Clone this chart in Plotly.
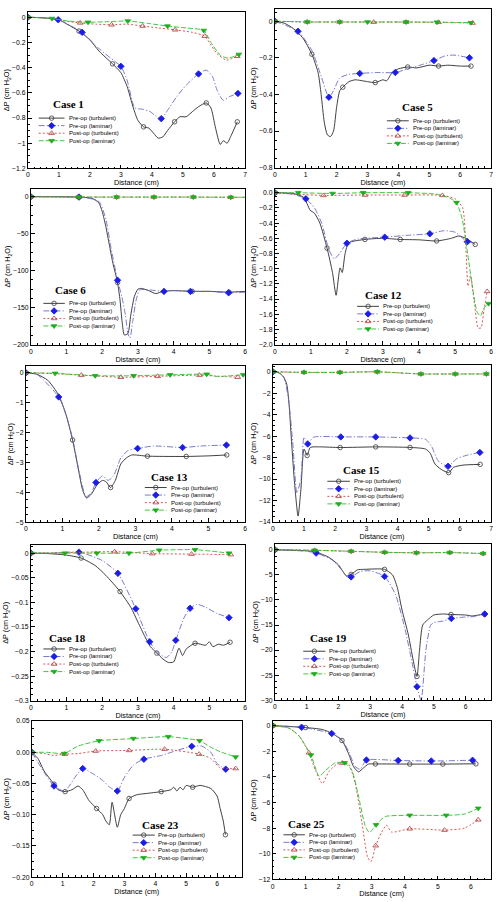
import plotly.graph_objects as go

W, H = 503, 902

SERIES_NAMES = ["Pre-op (turbulent)", "Pre-op (laminar)", "Post-op (turbulent)", "Post-op (laminar)"]
X_TITLE = "Distance (cm)"
Y_TITLE = "\u0394P (cm H<sub>2</sub>O)"

# ---- data: (distance, dP, marker-flag) ----
C1_PT = [(0,0,1),(0.5,-0.005,0),(1.0,-0.02,0),(1.3,-0.06,0),(1.65,-0.11,1),(2.0,-0.18,0),(2.3,-0.27,0),(2.73,-0.37,1),(3.0,-0.44,0),(3.2,-0.55,0),(3.4,-0.72,0),(3.55,-0.82,0),(3.73,-0.87,1),(3.9,-0.88,0),(4.05,-0.92,0),(4.2,-0.96,0),(4.35,-0.95,0),(4.5,-0.9,0),(4.73,-0.83,1),(4.9,-0.79,0),(5.1,-0.79,0),(5.3,-0.75,0),(5.5,-0.71,0),(5.75,-0.68,1),(5.9,-0.72,0),(6.05,-0.88,0),(6.2,-1.01,0),(6.3,-0.98,0),(6.42,-1.0,0),(6.55,-0.94,0),(6.75,-0.83,1)]
C1_PL = [(0,0,1),(0.5,-0.005,0),(0.98,-0.02,1),(1.4,-0.07,0),(1.75,-0.12,1),(2.3,-0.25,0),(2.8,-0.35,0),(3.0,-0.39,1),(3.2,-0.5,0),(3.45,-0.72,0),(3.7,-0.73,0),(3.95,-0.75,0),(4.1,-0.78,0),(4.3,-0.805,1),(4.5,-0.74,0),(4.8,-0.63,0),(5.1,-0.54,0),(5.5,-0.45,1),(5.75,-0.42,0),(5.95,-0.47,0),(6.1,-0.58,0),(6.3,-0.66,0),(6.5,-0.63,0),(6.77,-0.605,1)]
C1_QT = [(0,0,1),(0.8,-0.01,0),(1.2,-0.03,0),(1.69,-0.045,1),(2.2,-0.055,0),(2.7,-0.06,1),(3.2,-0.055,0),(3.7,-0.07,1),(4.2,-0.085,0),(4.75,-0.1,1),(5.3,-0.12,0),(5.7,-0.15,1),(5.9,-0.22,0),(6.1,-0.29,0),(6.4,-0.34,0),(6.75,-0.31,1)]
C1_QL = [(0,0,1),(0.78,-0.01,1),(1.3,-0.03,0),(1.94,-0.04,1),(2.6,-0.035,0),(3.22,-0.03,1),(3.9,-0.05,0),(4.5,-0.07,1),(5.1,-0.085,0),(5.67,-0.105,1),(5.9,-0.2,0),(6.2,-0.3,0),(6.45,-0.325,0),(6.8,-0.295,1)]

C5_PT = [(0,0,1),(0.3,-0.01,0),(0.6,-0.04,0),(0.9,-0.09,0),(1.2,-0.18,1),(1.4,-0.28,0),(1.5,-0.4,0),(1.6,-0.55,0),(1.7,-0.62,0),(1.8,-0.63,0),(1.9,-0.6,0),(2.0,-0.47,0),(2.1,-0.38,0),(2.2,-0.36,1),(2.4,-0.33,0),(2.6,-0.32,0),(3.0,-0.33,0),(3.25,-0.335,1),(3.5,-0.32,0),(3.62,-0.325,0),(3.8,-0.28,0),(4.0,-0.26,0),(4.3,-0.25,1),(4.6,-0.255,0),(5.0,-0.24,0),(5.3,-0.245,1),(5.6,-0.24,0),(6.0,-0.245,0),(6.35,-0.245,1)]
C5_PL = [(0,0,1),(0.75,-0.055,1),(1.2,-0.16,0),(1.5,-0.3,0),(1.75,-0.415,1),(1.9,-0.38,0),(2.1,-0.31,0),(2.4,-0.29,0),(2.75,-0.285,1),(3.3,-0.28,0),(3.9,-0.28,1),(4.3,-0.26,0),(4.8,-0.235,0),(5.15,-0.215,1),(5.5,-0.19,0),(5.8,-0.185,0),(6.3,-0.2,1)]
C5_QT = [(0,0,1),(1.05,-0.004,1),(2.1,-0.004,1),(3.2,-0.005,1),(4.25,-0.005,1),(5.3,-0.006,1),(6.4,-0.01,1)]
C5_QL = [(0,0,1),(1.05,-0.004,1),(2.1,-0.004,1),(3.0,-0.004,1),(4.25,-0.004,1),(5.25,-0.005,1),(6.35,-0.008,1)]

C6_PT = [(0,0,1),(1.35,-0.5,1),(1.7,-2,0),(1.9,-8,0),(2.0,-20,0),(2.1,-40,0),(2.2,-65,0),(2.3,-90,0),(2.43,-116,1),(2.5,-140,0),(2.56,-170,0),(2.62,-187,0),(2.72,-185,0),(2.8,-160,0),(2.9,-135,0),(3.0,-125,0),(3.1,-124,0),(3.3,-127,0),(3.5,-131,0),(3.7,-128,0),(4.0,-127,0),(4.52,-128,1),(5.0,-128,0),(5.55,-129,1),(6.0,-128,0)]
C6_PL = [(0,0,1),(1.35,-0.5,1),(1.9,-6,0),(2.1,-30,0),(2.25,-70,0),(2.43,-113,1),(2.55,-135,0),(2.65,-160,0),(2.72,-185,0),(2.78,-191,0),(2.85,-170,0),(2.95,-140,0),(3.05,-126,0),(3.3,-126,0),(3.73,-128,1),(4.0,-127,0),(4.47,-128,1),(5.0,-128,0),(5.54,-130,1),(6.0,-129,0)]
C6_QT = [(0,0,1),(1.35,-0.5,1),(2.4,-0.5,1),(3.45,-0.5,1),(4.55,-0.5,1),(5.6,-0.8,1),(6.0,-0.8,0)]
C6_QL = [(0,0,1),(1.35,-0.5,1),(2.4,-0.5,1),(3.45,-0.5,1),(4.55,-0.5,1),(5.6,-0.8,1),(6.0,-0.8,0)]

C12_PT = [(0,0,1),(0.5,-0.01,0),(0.8,-0.06,0),(0.98,-0.23,0),(1.1,-0.27,0),(1.25,-0.4,0),(1.45,-0.73,1),(1.6,-1.05,0),(1.7,-1.35,0),(1.81,-0.99,0),(1.87,-1.05,0),(1.95,-0.8,0),(2.05,-0.66,0),(2.5,-0.615,1),(3.0,-0.6,0),(3.48,-0.615,1),(4.0,-0.62,0),(4.49,-0.635,1),(4.9,-0.6,0),(5.1,-0.57,0),(5.3,-0.6,0),(5.56,-0.68,1)]
C12_PL = [(0,0,1),(0.5,-0.02,0),(0.86,-0.08,1),(1.1,-0.2,0),(1.3,-0.4,0),(1.5,-0.75,0),(1.65,-0.87,0),(1.8,-0.8,0),(2.0,-0.665,1),(2.3,-0.61,0),(3.05,-0.585,1),(3.7,-0.56,0),(4.3,-0.54,1),(4.7,-0.5,0),(5.0,-0.52,0),(5.34,-0.645,1),(5.5,-0.66,0)]
C12_QT = [(0,0,1),(0.6,-0.02,0),(1.35,-0.035,1),(2.5,-0.03,1),(3.6,-0.03,1),(4.65,-0.035,1),(5.0,-0.08,0),(5.21,-0.2,0),(5.3,-0.7,0),(5.36,-1.23,0),(5.43,-1.09,0),(5.55,-1.5,0),(5.64,-1.78,0),(5.72,-1.78,0),(5.8,-1.55,0),(5.89,-1.3,1)]
C12_QL = [(0,0,1),(0.65,0.0,1),(1.6,-0.01,1),(2.45,0.0,1),(3.7,0.0,1),(4.5,-0.02,0),(4.85,-0.07,0),(5.04,-0.13,1),(5.2,-0.35,0),(5.35,-0.8,0),(5.5,-1.3,0),(5.62,-1.58,0),(5.71,-1.62,0),(5.8,-1.52,0),(5.93,-1.46,1)]

C13_PT = [(0,0,1),(0.3,-0.05,0),(0.6,-0.25,0),(0.9,-0.75,0),(1.1,-1.4,0),(1.28,-2.25,1),(1.45,-3.3,0),(1.55,-3.9,0),(1.66,-4.19,0),(1.8,-4.05,0),(1.95,-3.75,0),(2.1,-3.6,0),(2.2,-3.65,0),(2.32,-3.84,1),(2.45,-3.6,0),(2.6,-3.05,0),(2.75,-2.85,0),(2.9,-2.75,0),(3.33,-2.79,1),(4.0,-2.8,0),(4.39,-2.8,1),(5.0,-2.78,0),(5.5,-2.75,1)]
C13_PL = [(0,0,1),(0.3,-0.05,0),(0.9,-0.81,1),(1.1,-1.4,0),(1.28,-2.2,0),(1.45,-3.25,0),(1.65,-4.15,0),(1.8,-4.0,0),(1.92,-3.67,1),(2.1,-3.45,0),(2.25,-3.6,0),(2.4,-3.45,0),(2.6,-2.85,0),(2.8,-2.6,0),(3.06,-2.53,1),(3.5,-2.45,0),(4.29,-2.5,1),(4.8,-2.45,0),(5.49,-2.42,1)]
C13_QT = [(0,0,1),(0.8,-0.03,0),(1.52,-0.08,1),(2.6,-0.15,1),(3.61,-0.12,1),(4.75,-0.08,1),(5.3,-0.12,0),(5.8,-0.15,1)]
C13_QL = [(0,0,1),(0.8,-0.02,1),(1.9,-0.1,1),(2.95,-0.1,1),(3.95,-0.07,1),(4.95,-0.05,1),(5.2,-0.12,0),(5.95,-0.07,1)]

C15_PT = [(0,0,1),(0.2,-0.1,0),(0.35,-0.5,0),(0.45,-1.2,0),(0.52,-3.0,0),(0.6,-6.5,0),(0.7,-10.5,0),(0.81,-13.45,0),(0.9,-11.0,0),(1.0,-7.2,0),(1.1,-7.8,1),(1.2,-7.05,0),(1.5,-7.0,0),(2.16,-7.06,1),(3.3,-7.0,1),(4.4,-7.05,1),(4.9,-7.2,0),(5.05,-7.6,0),(5.2,-8.6,0),(5.4,-9.1,0),(5.64,-9.4,1),(5.8,-8.9,0),(6.1,-8.7,0),(6.65,-8.63,1)]
C15_PL = [(0,0,1),(0.2,-0.1,0),(0.35,-0.5,0),(0.5,-2.5,0),(0.65,-7.0,0),(0.77,-11.3,0),(0.9,-10.0,0),(1.0,-6.1,0),(1.12,-6.72,1),(1.3,-6.1,0),(2.18,-6.07,1),(3.3,-6.07,1),(4.4,-6.16,1),(4.9,-6.3,0),(5.1,-7.0,0),(5.3,-8.3,0),(5.62,-8.81,1),(5.9,-8.1,0),(6.2,-7.8,0),(6.64,-7.52,1)]
C15_QT = [(0,0,1),(1.0,-0.05,1),(2.15,-0.05,1),(3.35,0.0,1),(4.75,-0.2,1),(5.85,-0.2,1),(6.85,-0.2,1)]
C15_QL = [(0,0,1),(1.0,-0.05,1),(2.15,-0.05,1),(3.35,0.0,1),(4.75,-0.2,1),(5.85,-0.2,1),(6.85,-0.2,1)]

C18_PT = [(0,0,1),(0.5,-0.001,0),(1.0,-0.004,0),(1.41,-0.01,1),(1.8,-0.025,0),(2.1,-0.045,0),(2.5,-0.078,1),(2.8,-0.11,0),(3.0,-0.14,0),(3.2,-0.17,0),(3.35,-0.19,0),(3.53,-0.203,1),(3.7,-0.215,0),(3.85,-0.222,0),(4.0,-0.221,0),(4.15,-0.193,0),(4.25,-0.208,0),(4.35,-0.195,0),(4.6,-0.183,1),(4.9,-0.187,0),(5.0,-0.18,0),(5.1,-0.19,0),(5.25,-0.185,0),(5.4,-0.187,0),(5.58,-0.181,1)]
C18_PL = [(0,0,1),(0.6,0.0,0),(1.35,0.002,1),(2.0,-0.015,0),(2.44,-0.041,1),(2.94,-0.113,1),(3.33,-0.18,1),(3.6,-0.205,0),(3.8,-0.212,0),(3.95,-0.2,0),(4.06,-0.177,1),(4.3,-0.13,0),(4.46,-0.112,1),(4.65,-0.104,0),(4.9,-0.11,0),(5.2,-0.122,0),(5.55,-0.131,1)]
C18_QT = [(0,0,1),(1.0,0.001,0),(2.35,0.003,1),(3.4,-0.001,1),(4.5,-0.002,1),(5.6,-0.003,1)]
C18_QL = [(0,0,1),(0.95,0.0,1),(1.85,0.0,1),(2.75,0.0,1),(3.6,0.006,1),(4.6,0.007,1),(5.55,0.0,1)]

C19_PT = [(0,0,1),(1.0,-0.2,0),(1.3,-0.46,1),(1.7,-1.5,0),(2.0,-3.0,0),(2.25,-5.2,0),(2.4,-4.9,1),(2.6,-4.0,0),(2.8,-3.9,0),(3.45,-3.9,1),(3.7,-5.0,0),(3.85,-7.5,0),(4.0,-12,0),(4.2,-17,0),(4.35,-22,0),(4.47,-25.25,1),(4.55,-20,0),(4.65,-15,0),(4.8,-14,0),(5.0,-13,0),(5.3,-12.8,0),(5.54,-12.9,1),(6.0,-13.0,0),(6.2,-13.2,0),(6.4,-13.0,0),(6.6,-12.85,1)]
C19_PL = [(0,0,1),(1.0,-0.3,0),(1.3,-0.66,1),(1.8,-2.0,0),(2.1,-4.0,0),(2.3,-5.5,0),(2.4,-5.4,1),(2.7,-4.3,0),(3.0,-4.2,0),(3.45,-5.3,1),(3.8,-9,0),(4.1,-16,0),(4.3,-22,0),(4.47,-27.3,1),(4.6,-30,0),(4.75,-20,0),(4.9,-15,0),(5.0,-14.5,0),(5.3,-14.2,0),(5.55,-13.7,1),(6.0,-13.4,0),(6.3,-13.3,0),(6.6,-12.8,1)]
C19_QT = [(0,0,1),(1.25,-0.1,1),(2.4,-0.3,1),(3.45,-0.5,1),(4.45,-0.6,1),(5.5,-0.55,1),(6.55,-0.75,1)]
C19_QL = [(0,0,1),(1.25,-0.1,1),(2.4,-0.3,1),(3.45,-0.5,1),(4.45,-0.6,1),(5.5,-0.55,1),(6.55,-0.75,1)]

C23_PT = [(0,0,1),(0.2,-0.01,0),(0.4,-0.03,0),(0.55,-0.04,0),(0.72,-0.051,1),(0.85,-0.06,0),(1.08,-0.063,1),(1.3,-0.06,0),(1.5,-0.054,0),(1.65,-0.06,0),(1.85,-0.077,0),(2.1,-0.09,1),(2.3,-0.1,0),(2.4,-0.11,0),(2.51,-0.116,0),(2.6,-0.08,0),(2.77,-0.12,0),(2.88,-0.1,0),(3.0,-0.09,0),(3.15,-0.074,1),(3.4,-0.068,0),(3.7,-0.066,0),(4.19,-0.063,1),(4.5,-0.06,0),(4.6,-0.056,0),(4.7,-0.062,0),(4.8,-0.056,0),(4.9,-0.06,0),(5.0,-0.053,0),(5.21,-0.056,1),(5.45,-0.053,0),(5.8,-0.058,0),(6.0,-0.07,0),(6.1,-0.09,0),(6.2,-0.11,0),(6.27,-0.132,1)]
C23_PL = [(0,0,1),(0.72,-0.054,1),(1.05,-0.062,0),(1.2,-0.055,0),(1.4,-0.04,0),(1.65,-0.026,1),(2.0,-0.035,0),(2.3,-0.045,0),(2.5,-0.055,0),(2.77,-0.062,1),(3.0,-0.04,0),(3.3,-0.02,0),(3.63,-0.011,1),(4.2,-0.005,0),(4.7,0.003,0),(5.18,0.0095,1),(5.5,0.01,0),(5.8,0.0,0),(6.0,-0.018,0),(6.28,-0.027,1)]
C23_QT = [(0,0,1),(0.4,-0.002,0),(0.7,-0.005,0),(1.07,-0.003,1),(1.5,-0.002,0),(2.07,0.002,1),(3.15,0.003,1),(4.3,0.005,1),(5.42,-0.003,1),(5.8,-0.01,0),(6.1,-0.025,0),(6.6,-0.026,1)]
C23_QL = [(0,0,1),(0.5,0.0,0),(1.05,-0.002,1),(1.5,0.01,0),(2.18,0.0185,1),(3.29,0.022,1),(4.42,0.025,1),(5.43,0.0185,1),(5.8,0.008,0),(6.1,0.001,0),(6.6,-0.0075,1)]

C25_PT = [(0,0,1),(1.0,-0.15,1),(1.5,-0.3,0),(1.8,-0.6,0),(2.1,-1.16,1),(2.3,-2.2,0),(2.45,-3.2,0),(2.6,-3.61,0),(2.75,-3.3,0),(2.9,-3.0,0),(3.11,-2.99,1),(4.15,-3.0,1),(5.15,-3.0,1),(6.15,-2.98,1)]
C25_PL = [(0,0,1),(0.88,-0.13,1),(1.79,-0.62,1),(2.1,-1.1,0),(2.3,-2.0,0),(2.5,-3.2,0),(2.65,-3.4,0),(2.75,-3.0,0),(2.84,-2.68,1),(3.8,-2.72,1),(4.8,-2.76,1),(6.05,-2.7,1)]
C25_QT = [(0,0,1),(0.5,-0.2,0),(0.8,-0.8,0),(1.1,-2.12,1),(1.3,-3.5,0),(1.51,-4.52,0),(1.7,-3.6,0),(1.95,-3.0,0),(2.11,-2.92,1),(2.3,-3.0,0),(2.5,-4.5,0),(2.7,-7.5,0),(2.88,-10.3,0),(2.98,-10.6,0),(3.12,-9.37,1),(3.3,-8.3,0),(3.45,-7.77,0),(3.6,-8.3,0),(4.15,-8.05,1),(5.2,-8.15,1),(5.8,-8.0,0),(6.22,-7.35,1)]
C25_QL = [(0,0,1),(0.5,-0.2,0),(0.8,-0.8,0),(1.16,-2.3,1),(1.41,-3.95,0),(1.6,-3.5,0),(1.9,-2.9,0),(2.18,-2.9,1),(2.4,-3.5,0),(2.6,-5.5,0),(2.8,-7.8,0),(2.93,-8.34,0),(3.13,-7.74,1),(3.4,-7.1,0),(4.15,-7.0,1),(5.25,-7.0,1),(5.8,-6.9,0),(6.22,-6.45,1)]

# ---- panel layout (pixel geometry) ----
PANELS = [
    dict(label="Case 1", data=(C1_PT, C1_PL, C1_QT, C1_QL), xd=(26, 245), yd=(8, 165.7), xr=(0, 7), yr=(-1.2, 0.042), dy=0.2, fmt="", case=(66.7, 100.7), leg=(37, 63, 65.7, 115)),
    dict(label="Case 5", data=(C5_PT, C5_PL, C5_QT, C5_QL), xd=(275, 493), yd=(5, 165), xr=(0, 7), yr=(-0.8, 0.067), dy=0.2, fmt="", case=(418.7, 104), leg=(388, 410, 412, 117.7)),
    dict(label="Case 6", data=(C6_PT, C6_PL, C6_QT, C6_QL), xd=(29, 245), yd=(186, 343.3), xr=(0, 6), yr=(-200, 11), dy=50, fmt="", case=(69.3, 288.3), leg=(41.7, 63.3, 65.3, 301.7)),
    dict(label="Case 12", data=(C12_PT, C12_PL, C12_QT, C12_QL), xd=(275, 493), yd=(186, 343.3), xr=(0, 6), yr=(-2.0, 0.055), dy=0.2, fmt=".1f", case=(384.7, 293.3), leg=(358, 380, 382, 304.7)),
    dict(label="Case 13", data=(C13_PT, C13_PL, C13_QT, C13_QL), xd=(24, 245), yd=(365, 522.3), xr=(0, 6), yr=(-5, 0.22), dy=1, fmt="", case=(169.3, 476.7), leg=(144, 166, 168.3, 487.3)),
    dict(label="Case 15", data=(C15_PT, C15_PL, C15_QT, C15_QL), xd=(273, 493), yd=(364, 522), xr=(0, 7), yr=(-14, 0.62), dy=2, fmt="", case=(362.7, 470), leg=(328, 350.7, 352.7, 481)),
    dict(label="Case 18", data=(C18_PT, C18_PL, C18_QT, C18_QL), xd=(29, 245), yd=(545, 702.3), xr=(0, 6), yr=(-0.3, 0.017), dy=0.05, fmt="", case=(66, 639), leg=(41.7, 63.3, 65.3, 650)),
    dict(label="Case 19", data=(C19_PT, C19_PL, C19_QT, C19_QL), xd=(275, 493), yd=(544, 701.7), xr=(0, 6.8), yr=(-30, 1.2), dy=5, fmt="", case=(328.7, 639), leg=(303.7, 326, 328, 652.3)),
    dict(label="Case 23", data=(C23_PT, C23_PL, C23_QT, C23_QL), xd=(30, 241.7), yd=(722.7, 880), xr=(0, 6.8), yr=(-0.2, 0.05), dy=0.05, fmt=".2f", case=(159.3, 827.3), leg=(131.7, 154, 155.7, 837.6)),
    dict(label="Case 25", data=(C25_PT, C25_PL, C25_QT, C25_QL), xd=(272.7, 492.7), yd=(723, 882.3), xr=(0, 6.6), yr=(-12, 0.33), dy=2, fmt="", case=(307, 826), leg=(283.7, 305.3, 307.3, 837.3)),
]

STYLES = [
    dict(color="#2a2a2a", dash="solid", symbol="circle-open", mcolor="#3a3a3a", msize=4.5, mfill="#3a3a3a"),
    dict(color="#6a6ac4", dash="6px,2px,1.2px,2px", symbol="diamond", mcolor="#1c1ce8", msize=5, mfill="#1c1ce8"),
    dict(color="#d04444", dash="2px,2px", symbol="triangle-up-open", mcolor="#b03a3a", msize=5, mfill="#b03a3a"),
    dict(color="#2cc02c", dash="5px,2px", symbol="triangle-down", mcolor="#1cae1c", msize=5, mfill="#1cae1c"),
]
LEG_ROW = 7.6

TICK_FONT = dict(family="Liberation Sans, Arial, sans-serif", size=6.8, color="black")
TITLE_FONT = dict(family="Liberation Sans, Arial, sans-serif", size=7.3, color="black")

fig = go.Figure()
layout = dict(width=W, height=H, margin=dict(l=0, r=0, t=0, b=0),
              paper_bgcolor="white", plot_bgcolor="rgba(0,0,0,0)", showlegend=False)
annotations = []

for i, p in enumerate(PANELS, start=1):
    xa = f"x{i}" if i > 1 else "x"
    ya = f"y{i}" if i > 1 else "y"
    for s, st in zip(p["data"], STYLES):
        xs = [t[0] for t in s]
        ys = [t[1] for t in s]
        fig.add_trace(go.Scatter(x=xs, y=ys, mode="lines", xaxis=xa, yaxis=ya,
                                 line=dict(color=st["color"], width=0.9, dash=st["dash"],
                                           shape="spline", smoothing=0.6),
                                 hoverinfo="skip"))
        mx = [t[0] for t in s if t[2]]
        my = [t[1] for t in s if t[2]]
        fig.add_trace(go.Scatter(x=mx, y=my, mode="markers", xaxis=xa, yaxis=ya,
                                 marker=dict(symbol=st["symbol"], size=st["msize"], color=st["mfill"],
                                             line=dict(color=st["mcolor"], width=0.8)),
                                 hoverinfo="skip"))
    axis_common = dict(showline=True, mirror=True, linecolor="black", linewidth=0.8,
                       ticks="inside", ticklen=4, tickwidth=0.7, tickcolor="black",
                       tickfont=TICK_FONT, showgrid=False, zeroline=False)
    xkey = "xaxis" if i == 1 else f"xaxis{i}"
    ykey = "yaxis" if i == 1 else f"yaxis{i}"
    layout[xkey] = dict(axis_common, domain=[p["xd"][0] / W, p["xd"][1] / W], range=list(p["xr"]),
                        anchor=ya, tick0=0, dtick=1,
                        minor=dict(ticks="inside", ticklen=2, dtick=0.2, tickcolor="black", tickwidth=0.5),
                        title=dict(text=X_TITLE, font=TITLE_FONT, standoff=1))
    layout[ykey] = dict(axis_common, domain=[1 - p["yd"][1] / H, 1 - p["yd"][0] / H], range=list(p["yr"]),
                        anchor=xa, tick0=0, dtick=p["dy"], tickformat=p["fmt"],
                        minor=dict(ticks="inside", ticklen=2, dtick=p["dy"] / 4, tickcolor="black", tickwidth=0.5),
                        title=dict(text=Y_TITLE, font=TITLE_FONT, standoff=1))
    # case label
    cx, cy = p["case"]
    annotations.append(dict(text=f"<b>{p['label']}</b>", x=cx / W, y=1 - cy / H, xref="paper", yref="paper",
                            showarrow=False, xanchor="center", yanchor="middle",
                            font=dict(family="Liberation Serif, Times New Roman, serif", size=11, color="black")))
    # legend
    lx0, lx1, tx, ty0 = p["leg"]
    for k, (name, st) in enumerate(zip(SERIES_NAMES, STYLES)):
        yy = ty0 + k * LEG_ROW
        fig.add_trace(go.Scatter(x=[lx0, lx1], y=[yy, yy], mode="lines", xaxis="x11", yaxis="y11",
                                 line=dict(color=st["color"], width=0.9, dash=st["dash"]), hoverinfo="skip"))
        fig.add_trace(go.Scatter(x=[(lx0 + lx1) / 2], y=[yy], mode="markers", xaxis="x11", yaxis="y11",
                                 marker=dict(symbol=st["symbol"], size=st["msize"], color=st["mfill"],
                                             line=dict(color=st["mcolor"], width=0.8)), hoverinfo="skip"))
        annotations.append(dict(text=name, x=tx / W, y=1 - yy / H, xref="paper", yref="paper",
                                showarrow=False, xanchor="left", yanchor="middle",
                                font=dict(family="Liberation Sans, Arial, sans-serif", size=6, color="black")))

layout["xaxis11"] = dict(domain=[0, 1], range=[0, W], visible=False, anchor="y11", fixedrange=True)
layout["yaxis11"] = dict(domain=[0, 1], range=[H, 0], visible=False, anchor="x11", fixedrange=True)
layout["annotations"] = annotations
fig.update_layout(**layout)

fig.write_html("out.html", config={"displayModeBar": False},
               post_script="document.body.style.margin='0';document.body.style.padding='0';document.body.style.overflow='hidden';")
